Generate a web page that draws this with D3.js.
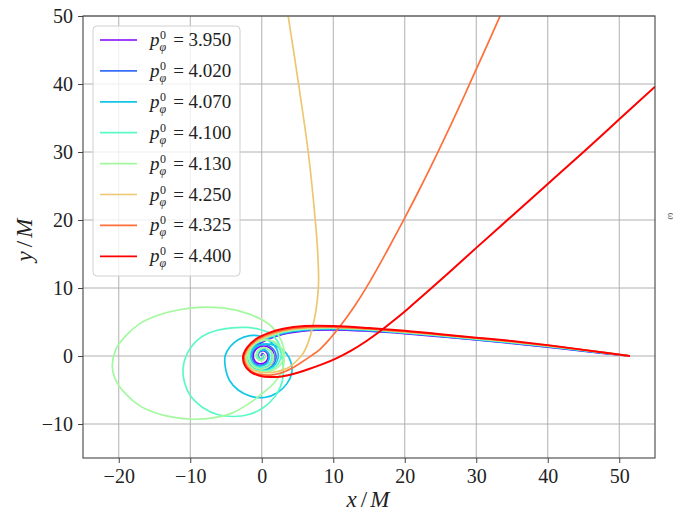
<!DOCTYPE html>
<html>
<head>
<meta charset="utf-8">
<script src="https://cdn.jsdelivr.net/npm/d3@7"></script>
<style>
  html, body { margin: 0; padding: 0; background: #fff; }
  svg { display: block; }
</style>
</head>
<body>
<svg id="chart" width="673" height="511"></svg>
<script>
// ---------------- data ----------------
const pValues = ["3.950", "4.020", "4.070", "4.100", "4.130", "4.250", "4.325", "4.400"];
const colors  = ["#8000ff", "#376ff9", "#12c7e6", "#5bf9c7", "#a4f99f", "#edc76f", "#ff6f39", "#ff0000"];
const xTicks = [-20, -10, 0, 10, 20, 30, 40, 50];
const yTicks = [-10, 0, 10, 20, 30, 40, 50];
const xDomain = [-25, 55];
const yDomain = [-15, 50];

const traj3950 = [[51.5,0],[45,0.7],[40,1.3],[35,1.85],[30,2.35],[25,2.85],[20,3.3],[15,3.65],[10,3.85],[6,3.7],[3,3.2],[1,2.5],[-0.6,1.6],[-1.4,0.6],[-1.7,-0.4],[-1.4,-1.2],[-0.7,-1.7],[0.2,-1.85],[1.0,-1.5],[1.6,-0.8],[1.7,0.1],[1.4,0.9],[0.7,1.4],[-0.2,1.4],[-0.9,0.9],[-1.2,0.1],[-1.0,-0.7],[-0.5,-1.1],[0.2,-1.1],[0.7,-0.7],[0.9,-0.1],[0.7,0.5],[0.2,0.8],[-0.3,0.6],[-0.5,0.2],[-0.4,-0.3],[-0.1,-0.5],[0.25,-0.35],[0.35,0],[0.2,0.3],[0,0.25],[-0.1,0.05]];
const traj4020 = [[51.5,0],[45,0.75],[40,1.35],[35,1.9],[30,2.4],[25,2.9],[20,3.35],[15,3.7],[10,3.9],[6,3.75],[3,3.3],[1,2.6],[-0.7,1.7],[-1.5,0.6],[-1.8,-0.4],[-1.5,-1.3],[-0.8,-1.85],[0.2,-2.0],[1.1,-1.7],[1.8,-1.0],[2.0,0],[1.7,0.9],[1.0,1.5],[0.1,1.7],[-0.8,1.3],[-1.3,0.5],[-1.3,-0.4],[-0.9,-1.1],[-0.1,-1.4],[0.6,-1.1],[1.0,-0.4],[0.9,0.4],[0.4,0.9],[-0.2,0.9],[-0.6,0.4],[-0.6,-0.2],[-0.3,-0.5],[0.1,-0.5],[0.35,-0.2],[0.3,0.15],[0.1,0.25],[0,0.1]];
const traj4070 = [[51.5,0],[45,0.8],[40,1.4],[35,1.95],[30,2.45],[25,2.95],[20,3.4],[15,3.8],[10,4.0],[6,3.85],[3,3.4],[1,2.7],[-0.7,1.8],[-1.55,0.7],[-1.95,-0.3],[-1.7,-1.2],[-1.0,-1.85],[0,-2.1],[1.0,-1.9],[1.9,-1.2],[2.3,-0.2],[2.1,1.0],[1.2,2.1],[-0.2,2.9],[-1.7,3.0],[-3.3,2.4],[-4.4,1.4],[-5.1,0.1],[-5.1,-1.6],[-4.5,-3.6],[-3.3,-5.0],[-1.6,-5.9],[0.4,-6.1],[2.2,-5.4],[3.5,-4.1],[4.2,-2.5],[4.1,-1.0],[3.5,0.3],[2.5,1.2],[1.3,1.7],[0,1.7],[-1.0,1.2],[-1.5,0.3],[-1.5,-0.6],[-1.0,-1.3],[-0.2,-1.5],[0.6,-1.2],[1.0,-0.5],[1.0,0.3],[0.5,0.8],[-0.1,0.8],[-0.5,0.4],[-0.5,-0.1],[-0.2,-0.4],[0.2,-0.3],[0.3,0],[0.1,0.15]];
const traj4100 = [[51.5,0],[45,0.85],[40,1.45],[35,2.0],[30,2.5],[25,3.0],[20,3.45],[15,3.85],[10,4.1],[6,3.95],[3,3.5],[1,2.8],[-0.8,1.9],[-1.65,0.8],[-2.05,-0.2],[-1.8,-1.2],[-1.1,-1.9],[-0.1,-2.2],[1.0,-2.1],[2.0,-1.5],[2.6,-0.5],[2.7,0.7],[2.2,2.2],[1.2,3.3],[-0.3,3.9],[-2,4.2],[-4.5,4.1],[-6.8,3.6],[-8.7,2.6],[-10.3,0.6],[-11,-1.8],[-10.8,-3.9],[-10.0,-5.8],[-8.2,-7.6],[-6.2,-8.6],[-4,-8.9],[-1.8,-8.6],[0.2,-7.6],[1.9,-5.9],[2.9,-3.6],[3.0,-1.5],[2.8,0],[2.3,1.4],[1.3,2.2],[0,2.3],[-1.1,1.7],[-1.6,0.7],[-1.7,-0.4],[-1.2,-1.3],[-0.3,-1.7],[0.7,-1.5],[1.3,-0.7],[1.4,0.3],[0.9,1.0],[0.1,1.1],[-0.5,0.6],[-0.6,-0.1],[-0.2,-0.5],[0.3,-0.4],[0.4,0],[0.15,0.2]];
const traj4130 = [[51.5,0],[45,0.85],[40,1.5],[35,2.05],[30,2.55],[25,3.05],[20,3.5],[15,3.9],[10,4.15],[6,4.0],[3,3.6],[1,2.9],[-0.8,2.0],[-1.7,0.9],[-2.15,-0.2],[-1.9,-1.2],[-1.2,-1.95],[-0.1,-2.3],[1.1,-2.25],[2.2,-1.7],[2.9,-0.8],[3.15,0.3],[2.8,2.1],[1.6,4.1],[-0.3,5.5],[-3.1,6.6],[-6,7.1],[-8.7,7.15],[-11.5,6.8],[-14.5,6.0],[-17,4.8],[-19,3.0],[-20.4,1.0],[-20.9,-1.6],[-20.3,-3.8],[-19,-5.6],[-17.1,-7.3],[-15,-8.3],[-12.5,-9.0],[-9.6,-9.3],[-6.8,-9.1],[-4.2,-8.4],[-1.8,-7.0],[0.2,-5.4],[1.7,-4.0],[2.7,-2.5],[3.1,-1.0],[3.0,0.4],[2.5,1.5],[1.5,2.2],[0.2,2.3],[-1.0,1.8],[-1.7,0.8],[-1.8,-0.4],[-1.3,-1.4],[-0.3,-1.9],[0.8,-1.7],[1.5,-0.9],[1.6,0.2],[1.0,1.0],[0.1,1.2],[-0.6,0.7],[-0.8,-0.1],[-0.4,-0.6],[0.2,-0.6],[0.4,-0.1],[0.2,0.2]];
const traj4250 = [[51.5,0],[45,0.9],[40,1.5],[35,2.1],[30,2.6],[25,3.1],[20,3.55],[15,3.95],[10,4.2],[6,4.1],[3,3.7],[1,3.0],[-0.8,2.1],[-1.8,1.0],[-2.3,-0.1],[-2.05,-1.2],[-1.3,-2.0],[-0.2,-2.4],[1,-2.45],[2.1,-2.3],[3.1,-2.0],[3.9,-1.6],[4.9,-0.7],[5.8,0.4],[6.5,2.0],[7.0,3.8],[7.5,6.2],[7.8,8.5],[7.95,11],[7.9,13.5],[7.72,17],[7.48,20],[7.03,25],[6.5,30],[5.85,35],[5.15,40],[4.43,45],[3.7,50],[3.4,52]];
const traj4325 = [[51.5,0],[45,0.9],[40,1.55],[35,2.15],[30,2.65],[25,3.15],[20,3.6],[15,4.0],[10,4.25],[6,4.2],[3,3.8],[1,3.2],[-0.8,2.3],[-1.9,1.2],[-2.45,0],[-2.25,-1.2],[-1.5,-2.2],[-0.3,-2.7],[1.2,-2.8],[2.7,-2.5],[4.2,-1.8],[5.3,-1.1],[6.8,-0.05],[8.1,0.95],[9.5,2.5],[10.9,4.3],[12.9,7.2],[15.1,10.9],[17.5,15.4],[20,20.3],[22.3,25.0],[24.5,29.7],[26.5,34.1],[28.3,38.2],[30.1,42.4],[31.6,45.9],[33,49.2],[34.2,52]];
const traj4400 = [[51.5,0],[45,0.9],[40,1.6],[35,2.2],[30,2.7],[25,3.2],[20,3.7],[15,4.1],[10,4.4],[6,4.4],[3,4.0],[1,3.4],[-0.8,2.5],[-2,1.3],[-2.6,0],[-2.4,-1.3],[-1.6,-2.3],[-0.3,-2.9],[1.2,-3.1],[2.8,-3.0],[4.5,-2.6],[6.5,-1.95],[8.5,-1.2],[10.5,-0.3],[12.5,0.8],[14.5,2.1],[16.5,3.6],[18.5,5.25],[20.5,7.0],[23,9.3],[26,12.1],[30,15.9],[35,20.6],[40,25.3],[45,30.0],[50,34.8],[55,39.6]];
const trajectories = [traj3950, traj4020, traj4070, traj4100, traj4130, traj4250, traj4325, traj4400];

// ---------------- layout ----------------
const SERIF = '"Liberation Serif"';
const svg = d3.select("#chart");
const L = 83, R = 655, T = 16, B = 458;
const x = d3.scaleLinear().domain(xDomain).range([L, R]);
const y = d3.scaleLinear().domain(yDomain).range([B, T]);

svg.append("defs").append("clipPath").attr("id", "clip")
  .append("rect").attr("x", L).attr("y", T).attr("width", R - L).attr("height", B - T);

// grid
const grid = svg.append("g");
grid.selectAll("line.gx").data(xTicks).enter().append("line")
  .attr("x1", d => x(d)).attr("x2", d => x(d)).attr("y1", T).attr("y2", B)
  .attr("stroke", "#b0b0b0").attr("stroke-width", 1);
grid.selectAll("line.gy").data(yTicks).enter().append("line")
  .attr("y1", d => y(d)).attr("y2", d => y(d)).attr("x1", L).attr("x2", R)
  .attr("stroke", "#b0b0b0").attr("stroke-width", 1);

// trajectories
const line = d3.line().x(d => x(d[0])).y(d => y(d[1])).curve(d3.curveCatmullRom.alpha(0.5));
const plot = svg.append("g").attr("clip-path", "url(#clip)");
trajectories.forEach((t, i) => {
  plot.append("path").attr("d", line(t)).attr("fill", "none")
    .attr("stroke", colors[i]).attr("stroke-width", i === 7 ? 2 : 1.7)
    .attr("stroke-linejoin", "round");
});

// axes
const fmt = d => d < 0 ? "\u2212" + Math.abs(d) : String(d);
const xAxis = d3.axisBottom(x).tickValues(xTicks).tickFormat(fmt).tickSize(5).tickPadding(6);
const yAxis = d3.axisLeft(y).tickValues(yTicks).tickFormat(fmt).tickSize(5).tickPadding(5);
const gx = svg.append("g").attr("transform", `translate(0,${B})`).call(xAxis);
const gy = svg.append("g").attr("transform", `translate(${L},0)`).call(yAxis);
[gx, gy].forEach(g => {
  g.attr("font-family", null).attr("font-size", null);
  g.select(".domain").remove();
  g.selectAll(".tick line").attr("stroke", "#444").attr("stroke-width", 1);
  g.selectAll(".tick text").style("font-family", SERIF).style("font-size", "20px").attr("fill", "#222");
});
gy.selectAll(".tick text").attr("dy", "0.34em");
gx.selectAll(".tick text").attr("dy", "0.72em");

// frame
svg.append("rect").attr("x", L).attr("y", T).attr("width", R - L).attr("height", B - T)
  .attr("fill", "none").attr("stroke", "#444").attr("stroke-width", 1.1);

// axis labels
function axisLabel(sel, a, b) {
  sel.style("font-family", SERIF).style("font-size", "23px").attr("fill", "#222");
  sel.append("tspan").style("font-style", "italic").text(a);
  sel.append("tspan").attr("dx", 4).text("/");
  sel.append("tspan").attr("dx", 3).style("font-style", "italic").text(b);
}
axisLabel(svg.append("text").attr("x", 368).attr("y", 507).attr("text-anchor", "middle"), "x", "M");
axisLabel(svg.append("text").attr("transform", "translate(32,240) rotate(-90)").attr("text-anchor", "middle"), "y", "M");

// legend
const lg = svg.append("g");
lg.append("rect").attr("x", 93).attr("y", 26).attr("width", 147).attr("height", 250)
  .attr("rx", 4).attr("fill", "#fff").attr("fill-opacity", 0.8)
  .attr("stroke", "#d0d0d0").attr("stroke-width", 1);
pValues.forEach((p, i) => {
  const cy = 40 + i * 30.9;
  lg.append("line").attr("x1", 100).attr("x2", 137).attr("y1", cy).attr("y2", cy)
    .attr("stroke", colors[i]).attr("stroke-width", 1.7);
  const t = lg.append("text").attr("x", 150).attr("y", cy + 6)
    .style("font-family", SERIF).style("font-size", "19px").attr("fill", "#222");
  t.append("tspan").style("font-style", "italic").text("p");
  t.append("tspan").attr("dx", 0.5).attr("dy", -7).style("font-size", "12px").text("0");
  t.append("tspan").attr("dx", -6.5).attr("dy", 12).style("font-size", "12px").style("font-style", "italic").text("\u03c6");
  t.append("tspan").attr("dx", 7).attr("dy", -5).text("= " + p);
});

// clipped label at right edge
svg.append("text").attr("transform", "translate(668,216) rotate(90)").style("font-family", SERIF)
  .style("font-size", "11px").attr("fill", "#666").attr("text-anchor", "middle").text("ω");
</script>
</body>
</html>
